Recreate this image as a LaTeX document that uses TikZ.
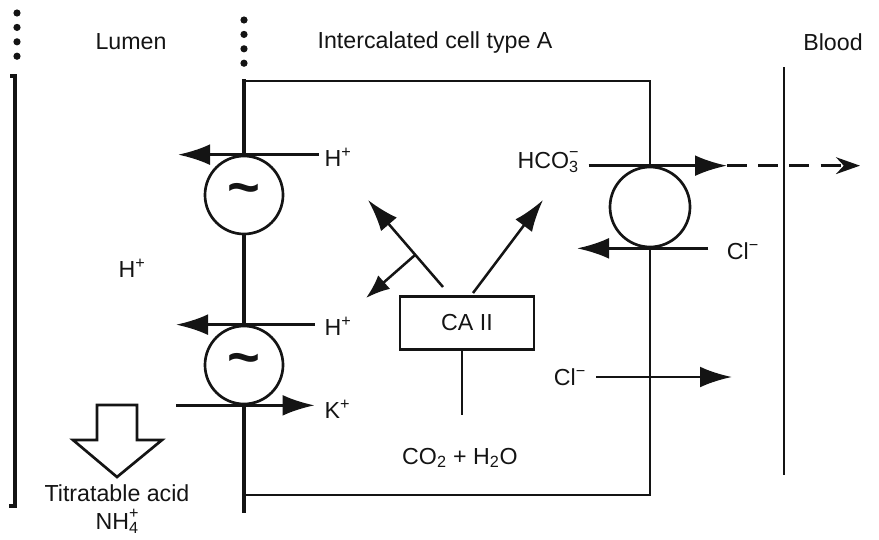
\documentclass[tikz,border=0pt]{standalone}
\usepackage{fontspec}
\setmainfont{Liberation Sans}
\usetikzlibrary{
    arrows.meta,
    calc,
    positioning
}
\definecolor{ink}{RGB}{20,20,20}
\newcommand{\ionsize}{\fontsize{11.5}{12}\selectfont}
\newcommand{\ionsubsup}[2]{\makebox[0pt][l]{\raisebox{-0.35ex}{\ionsize #1}}\raisebox{0.9ex}{\ionsize #2}}
\tikzset{
    line cap=butt,
    line join=round,
    labeltext/.style={
        font=\fontsize{16.5}{19}\selectfont,
        text=ink,
        inner sep=1pt
    },
    region/.style={labeltext},
    ion/.style={labeltext},
    membrane/.style={
        draw=ink,
        line width=3.5pt
    },
    membranedots/.style={
        draw=ink,
        line width=0.18cm,
        line cap=round,
        dash pattern=on 0pt off 0.36cm
    },
    lumenwall/.style={
        draw=ink,
        line width=2.8pt
    },
    cellwall/.style={
        draw=ink,
        line width=1.9pt
    },
    bloodwall/.style={
        draw=ink,
        line width=1.7pt
    },
    pump/.style={
        circle,
        draw=ink,
        line width=1.9pt,
        minimum size=1.95cm,
        inner sep=0pt,
        fill=white,
        text=ink,
        font=\fontsize{40}{40}\selectfont\bfseries
    },
    exchanger/.style={
        pump,
        minimum size=2cm
    },
    enzyme/.style={
        rectangle,
        draw=ink,
        line width=1.9pt,
        minimum width=3.35cm,
        minimum height=1.33cm,
        labeltext
    },
    transport/.style={
        -{Latex[length=0.8cm,width=0.52cm]},
        draw=ink,
        line width=2pt
    },
    diffuse/.style={
        -{Stealth[length=0.6cm,width=0.42cm]},
        draw=ink,
        line width=2pt,
        dash pattern=on 0.5cm off 0.28cm
    },
    reaction/.style={
        transport,
        line width=1.8pt
    },
    link/.style={
        draw=ink,
        line width=1.8pt
    },
    blockarrow/.style={
        draw=ink,
        line width=1.9pt,
        line join=miter
    }
}

\begin{document}
\begin{tikzpicture}[x=0.025cm, y=-0.025cm]
\useasboundingbox (0,0) rectangle (879,539);

    % Region titles
    \node[region] (lumen) at (131,42) {Lumen};
    \node[region] (cell) at (435,42) {Intercalated cell type A};
    \node[region] (blood) at (833,42) {Blood};

    % Pumps and exchanger sit on the membranes
    \node[pump] (pumpA) at (244,195) {\textasciitilde};
    \node[pump] (pumpB) at (244,365) {\textasciitilde};
    \node[exchanger] (exch) at (650,207) {};

% Lumen boundary
\draw[membranedots] (17,13) -- (17,60);
\draw[lumenwall] (10,76) -- (15,76) -- (15,506) -- (9,506);

% Apical membrane
\coordinate (apicaltop) at (244,79);
\coordinate (apicalbottom) at (244,513);
\draw[membranedots] (244,20) -- (244,64);
\draw[membrane] (apicaltop) -- (pumpA.north);
\draw[membrane] (pumpA.south) -- (pumpB.north);
\draw[membrane] (pumpB.south) -- (apicalbottom);

% Cell outline with basolateral membrane
\draw[cellwall] (244,81) -- (650,81) -- (exch.north);
\draw[cellwall] (exch.south) -- (650,495) -- (244,495);

% Blood side
\draw[bloodwall] (784,67) -- (784,475);

% Proton pumps
\node[ion, anchor=west] (hplusA) at (323,157) {H\textsuperscript{+}};
\coordinate (hplusAout) at (178,155);
\draw[transport, shorten <=3pt] (hplusA.west |- pumpA.north) -- (hplusAout |- pumpA.north);

\node[ion, anchor=west] (hplusB) at (323,326) {H\textsuperscript{+}};
\coordinate (hplusBout) at (176,323);
\draw[transport, shorten <=6pt] (hplusB.west |- pumpB.north) -- (hplusBout |- pumpB.north);

\node[ion, anchor=west] (kplus) at (323,409) {K\textsuperscript{+}};
\coordinate (kplusin) at (176,407);
\draw[transport, shorten >=6pt] (kplusin |- pumpB.south) -- (kplus.west |- pumpB.south);

% Lumen contents
\node[ion] (hpluslumen) at (132,268) {H\textsuperscript{+}};
\draw[blockarrow] (97,405) -- (137,405) -- (137,440) -- (162,440)
    -- (117,477) -- (73,440) -- (97,440) -- cycle;
\node[ion, align=center, font=\fontsize{16.5}{20}\selectfont] (acid) at (117,509)
    {Titratable acid\\NH\ionsubsup{4}{+}};

% Carbonic anhydrase
\node[enzyme] (ca) at (467,323) {CA II};
\node[ion] (water) at (460,458) {CO\textsubscript{2} + H\textsubscript{2}O};
\coordinate (castem) at (462,415);
\draw[link] (ca.south -| castem) -- (castem);

\coordinate (protonstart) at (443,287);
\coordinate (protonend) at (368,200);
\coordinate (protonbranch) at ($(protonstart)!0.37!(protonend)$);
\coordinate (protonpump) at (366,298);
\coordinate (bicarbstart) at (473,293);
\coordinate (bicarbend) at (543,200);
\draw[reaction] (protonstart) -- (protonend);
\draw[reaction, -{Latex[length=0.6cm,width=0.45cm]}] (protonbranch) -- (protonpump);
\draw[reaction] (bicarbstart) -- (bicarbend);

% Basolateral exchanger
\node[ion] (bicarb) at (548,162) {HCO\ionsubsup{3}{−}};
\coordinate (bicarbexit) at (727,166);
\coordinate (bicarbblood) at (860,166);
\draw[transport, shorten <=6pt] (bicarb.east |- exch.north) -- (bicarbexit |- exch.north);
\draw[diffuse] (bicarbexit |- exch.north) -- (bicarbblood |- exch.north);

\node[ion] (chlorideA) at (743,251) {Cl\textsuperscript{−}};
\coordinate (chlorideAin) at (577,251);
\draw[transport, shorten <=12pt] (chlorideA.west |- exch.south) -- (chlorideAin |- exch.south);

% Chloride channel
\node[ion] (chlorideB) at (570,377) {Cl\textsuperscript{−}};
\coordinate (chlorideBout) at (732,377);
\draw[transport, shorten <=6pt] (chlorideB.east) -- (chlorideBout |- chlorideB.east);

\end{tikzpicture}
\end{document}
